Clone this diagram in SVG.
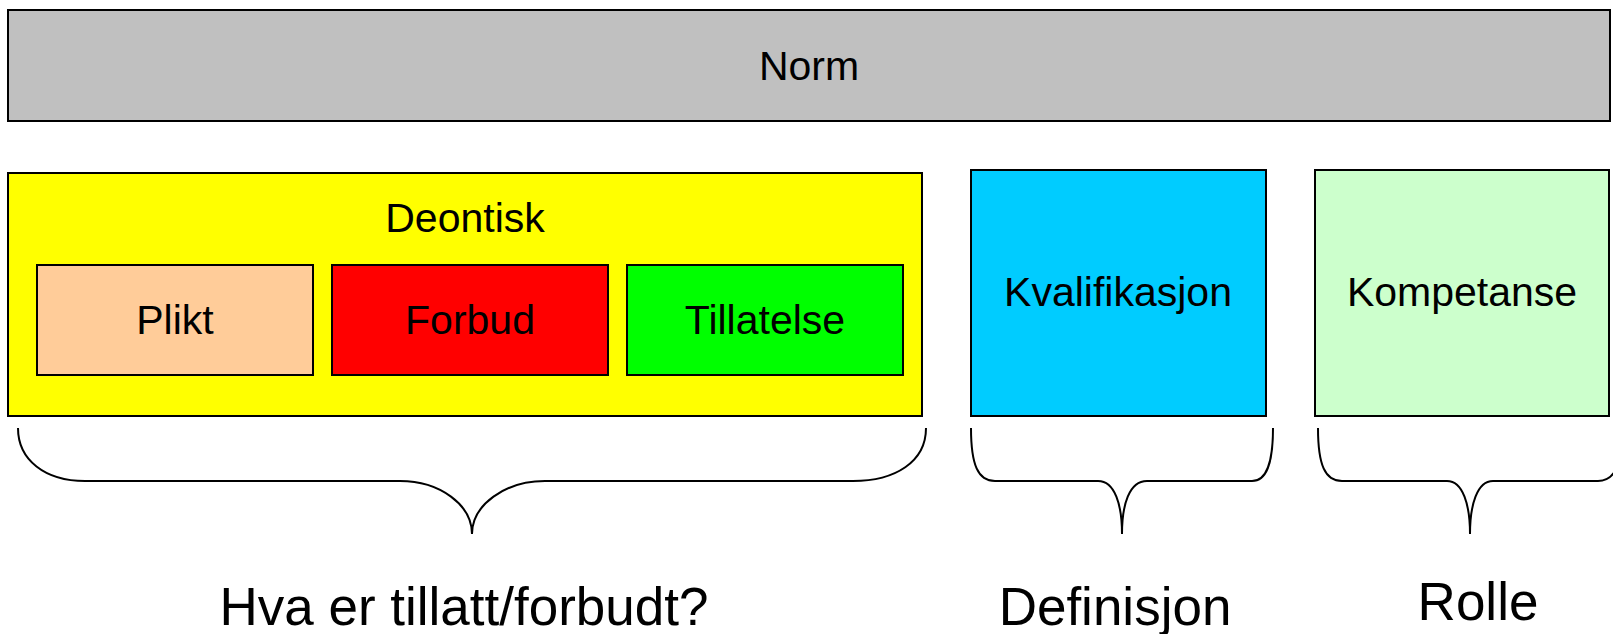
<svg xmlns="http://www.w3.org/2000/svg" width="1613" height="634" viewBox="0 0 1613 634">
<style>
.box{stroke:#000;stroke-width:2}
.t{font-family:"Liberation Sans",Arial,sans-serif;font-size:41px;fill:#000;text-anchor:middle}
.big{font-family:"Liberation Sans",Arial,sans-serif;font-size:53px;fill:#000;text-anchor:middle}
.brace{fill:none;stroke:#000;stroke-width:2}
</style>
<rect width="1613" height="634" fill="#fff"/>
<g id="norm">
<rect class="box" x="8" y="10" width="1602" height="111" fill="#C0C0C0"/>
<text class="t" x="809" y="80">Norm</text>
</g>
<g id="deontisk">
<rect class="box" x="8" y="173" width="914" height="243" fill="#FFFF00"/>
<text class="t" x="465" y="232">Deontisk</text>
</g>
<g id="plikt">
<rect class="box" x="37" y="265" width="276" height="110" fill="#FFCC99"/>
<text class="t" x="175" y="334">Plikt</text>
</g>
<g id="forbud">
<rect class="box" x="332" y="265" width="276" height="110" fill="#FF0000"/>
<text class="t" x="470" y="334">Forbud</text>
</g>
<g id="tillatelse">
<rect class="box" x="627" y="265" width="276" height="110" fill="#00FF00"/>
<text class="t" x="765" y="334">Tillatelse</text>
</g>
<g id="kvalifikasjon">
<rect class="box" x="971" y="170" width="295" height="246" fill="#00CCFF"/>
<text class="t" x="1118" y="306">Kvalifikasjon</text>
</g>
<g id="kompetanse">
<rect class="box" x="1315" y="170" width="294" height="246" fill="#CCFFCC"/>
<text class="t" x="1462" y="306">Kompetanse</text>
</g>
<g id="connectors">
<path class="brace" d="M18,428 C18,460 45,481 85,481 L400,481 C440,481 472,505 472,534 C472,505 505,481 545,481 L853,481 C895,481 926,462 926,428"/>
<path class="brace" d="M971,428 C971,465 978,481 995,481 L1098,481 C1115,481 1122,505 1122,534 C1122,505 1129,481 1147,481 L1252,481 C1266,481 1273,465 1273,428"/>
<path class="brace" d="M1318,428 C1318,465 1325,481 1342,481 L1447,481 C1463,481 1470,505 1470,534 C1470,505 1477,481 1493,481 L1598,481 C1615,481 1622,465 1622,428"/>
</g>
<g id="labels">
<text class="big" x="464" y="625">Hva er tillatt/forbudt?</text>
<text class="big" x="1115" y="625">Definisjon</text>
<text class="big" x="1478" y="620">Rolle</text>
</g>
</svg>
